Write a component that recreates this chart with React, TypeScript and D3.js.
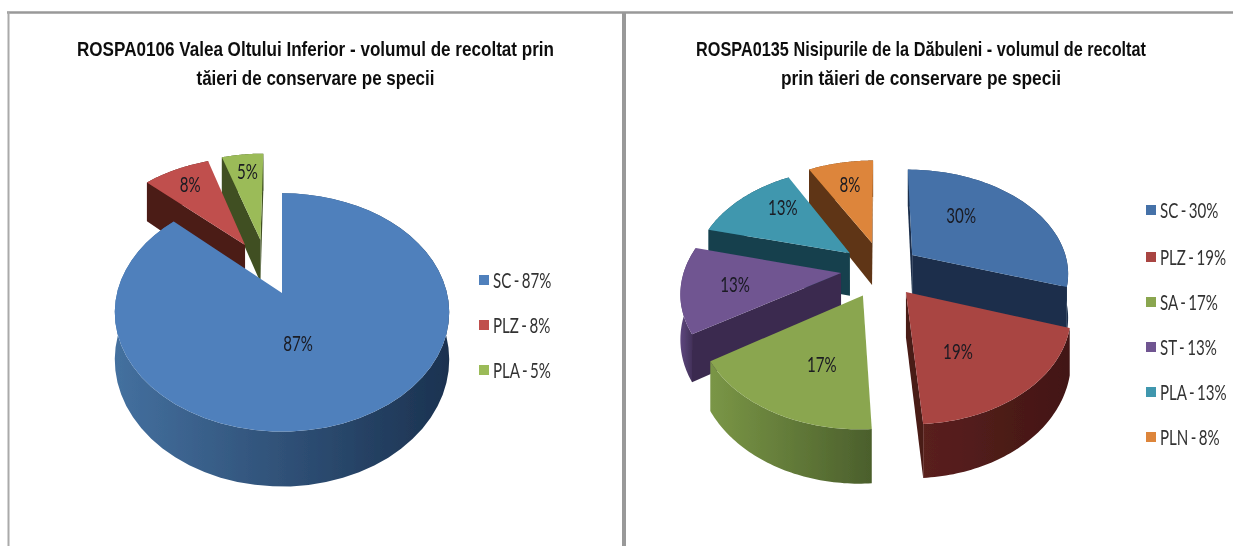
import React from "react";
import * as d3 from "d3";

// ---------- data ----------
const leftCategories = ["SC", "PLZ", "PLA"];
const leftValues = [87, 8, 5];
const rightCategories = ["SC", "PLZ", "SA", "ST", "PLA", "PLN"];
const rightValues = [30, 19, 17, 13, 13, 8];
const leftTitle = [
  "ROSPA0106 Valea Oltului Inferior - volumul de recoltat prin",
  "tăieri de conservare pe specii",
];
const rightTitle = [
  "ROSPA0135 Nisipurile de la Dăbuleni - volumul de recoltat",
  "prin tăieri de conservare pe specii",
];

// ---------- styles / layout ----------
const leftTop = ["#4f80bc", "#c0504d", "#9bbb59"];
const leftSide = ["#1c3350", "#4c1b19", "#3f5020"];
const leftWall = [["#44709f", "#1b3250"], ["#5a201e", "#4a1a18"], ["#46592a", "#3f5020"]];
const rightTop = ["#4571a8", "#a94442", "#8aa64f", "#6f5491", "#3f97ae", "#dd853a"];
const rightSide = ["#1a2f4c", "#4a1a17", "#4b5f2c", "#3b2b4f", "#16404d", "#5e3512"];
const rightWall = [
  ["#2f5078", "#1a2f4c"], ["#5a201e", "#421614"], ["#7a9646", "#4b5f2c"],
  ["#5e477e", "#3b2b4f"], ["#1d5262", "#16404d"], ["#7a4a1c", "#5e3512"],
];

interface PieCfg {
  id: string; cats: string[]; vals: number[]; top: string[]; side: string[]; wall: string[][];
  cx: number; cy: number; A: number; B: number; k: number; depth: number;
  pull: number[][]; order: number[]; labelOff: number[][];
  title: string[]; titleX: number; titleW: number[];
  legSquareX: number; legTextX: number; legY: number[];
}

const charts: PieCfg[] = [
  {
    id: "l", cats: leftCategories, vals: leftValues, top: leftTop, side: leftSide, wall: leftWall,
    cx: 282, cy: 293, A: 165, B: 116, k: 0.163, depth: 46,
    pull: [[0, 0], [-0.24, -0.444], [-0.141, -0.494]],
    order: [2, 1, 0],
    labelOff: [[16, 50], [-55, -60], [-13, -68]],
    title: leftTitle, titleX: 315.5, titleW: [477, 238],
    legSquareX: 479, legTextX: 493, legY: [280, 325, 370],
  },
  {
    id: "r", cats: rightCategories, vals: rightValues, top: rightTop, side: rightSide, wall: rightWall,
    cx: 880, cy: 275, A: 158, B: 105, k: 0.16, depth: 44,
    pull: [[0.21, -0.196], [0.16, 0.158], [-0.105, 0.19], [-0.247, -0.019], [-0.197, -0.215], [-0.053, -0.32]],
    order: [5, 4, 0, 3, 1, 2],
    labelOff: [[49, -40], [52, 59], [-41, 69], [-106, 11], [-67, -46], [-22, -59]],
    title: rightTitle, titleX: 921, titleW: [450, 280],
    legSquareX: 1146, legTextX: 1160, legY: [210, 257, 302, 347, 392, 437],
  },
];

const labelFont = "Lato, sans-serif";
const narrow = 0.72;
const lineGen = d3.line<number[]>().x((p) => p[0]).y((p) => p[1]);

function Pie({ c }: { c: PieCfg }) {
  const arcs = d3.pie<number>().sort(null)(c.vals);
  const project = (u: number, v: number, down = false): number[] => {
    const w = 1 - c.k * v;
    return [c.cx + (c.A * u) / w, c.cy + (c.B * v) / w + (down ? c.depth / w : 0)];
  };
  return (
    <g>
      <defs>
        {c.wall.map((g, i) => (
          <linearGradient key={i} id={`${c.id}w${i}`} x1="0" x2="1" y1="0" y2="0">
            <stop offset="0" stopColor={g[0]} />
            <stop offset="1" stopColor={g[1]} />
          </linearGradient>
        ))}
      </defs>
      {c.order.map((i) => {
        const a = arcs[i];
        const [pu, pv] = c.pull[i];
        const steps = d3.range(0, 61).map((t) => a.startAngle + ((a.endAngle - a.startAngle) * t) / 60);
        const rim = (down: boolean) => steps.map((t) => project(pu + Math.sin(t), pv - Math.cos(t), down));
        const topRim = rim(false);
        const botRim = rim(true);
        const apex = project(pu, pv);
        const apexD = project(pu, pv, true);
        const midPt = topRim[30];
        const last = steps.length - 1;
        const face = lineGen([apex, ...topRim]) + "Z";
        const outer = lineGen([...topRim, ...[...botRim].reverse()]) + "Z";
        // a radial wall shows only when the extrusion falls on the far side of it from the face
        const shows = (corner: number[]) => {
          const rx = corner[0] - apex[0];
          const ry = corner[1] - apex[1];
          const toMid = rx * (midPt[1] - apex[1]) - ry * (midPt[0] - apex[0]);
          return Math.abs(rx) > 1 && Math.sign(toMid) !== Math.sign(rx);
        };
        const walls = [0, last].filter((e) => shows(topRim[e]));
        return (
          <g key={i}>
            <path d={outer} fill={`url(#${c.id}w${i})`} />
            {walls.map((e) => (
              <path key={e} d={lineGen([apex, topRim[e], botRim[e], apexD]) + "Z"} fill={c.side[i]} />
            ))}
            <path d={face} fill={c.top[i]} />
          </g>
        );
      })}
      {arcs.map((a, i) => {
        const p = project(c.pull[i][0], c.pull[i][1]);
        return (
          <text key={i} transform={`translate(${p[0] + c.labelOff[i][0]},${p[1] + c.labelOff[i][1] + 7.5}) scale(${narrow},1)`}
            textAnchor="middle" fontFamily={labelFont} fontSize={21} fill="#1a1a22">
            {c.vals[i]}%
          </text>
        );
      })}
      {c.title.map((t, i) => (
        <text key={t} x={c.titleX} y={56 + i * 29} textAnchor="middle" fontFamily="'Liberation Sans', Arial, sans-serif"
          fontWeight={700} fontSize={21} fill="#111" textLength={c.titleW[i]} lengthAdjust="spacingAndGlyphs">
          {t}
        </text>
      ))}
      {c.cats.map((cat, i) => (
        <g key={cat}>
          <rect x={c.legSquareX} y={c.legY[i] - 5} width={10} height={10} fill={c.top[i]} />
          <text transform={`translate(${c.legTextX},${c.legY[i] + 7.5}) scale(${narrow},1)`}
            fontFamily={labelFont} fontSize={21} wordSpacing={-2} fill="#333">
            {cat} - {c.vals[i]}%
          </text>
        </g>
      ))}
    </g>
  );
}

export default function App() {
  return (
    <svg width={1233} height={546} style={{ position: "absolute", left: 0, top: 0, display: "block", background: "#fff" }}>
      <defs>
        <filter id="soft" x="0" y="0" width="100%" height="100%">
          <feGaussianBlur stdDeviation="0.6" />
        </filter>
      </defs>
      <g filter="url(#soft)">
        <rect x={0} y={0} width={1233} height={546} fill="#fff" />
        <line x1={7} x2={1233} y1={12.5} y2={12.5} stroke="#999" strokeWidth={2.5} />
        <line x1={8.5} x2={8.5} y1={12} y2={546} stroke="#aaa" strokeWidth={2} />
        <line x1={624} x2={624} y1={12} y2={546} stroke="#999" strokeWidth={4} />
        {charts.map((c) => (
          <Pie key={c.id} c={c} />
        ))}
      </g>
    </svg>
  );
}
